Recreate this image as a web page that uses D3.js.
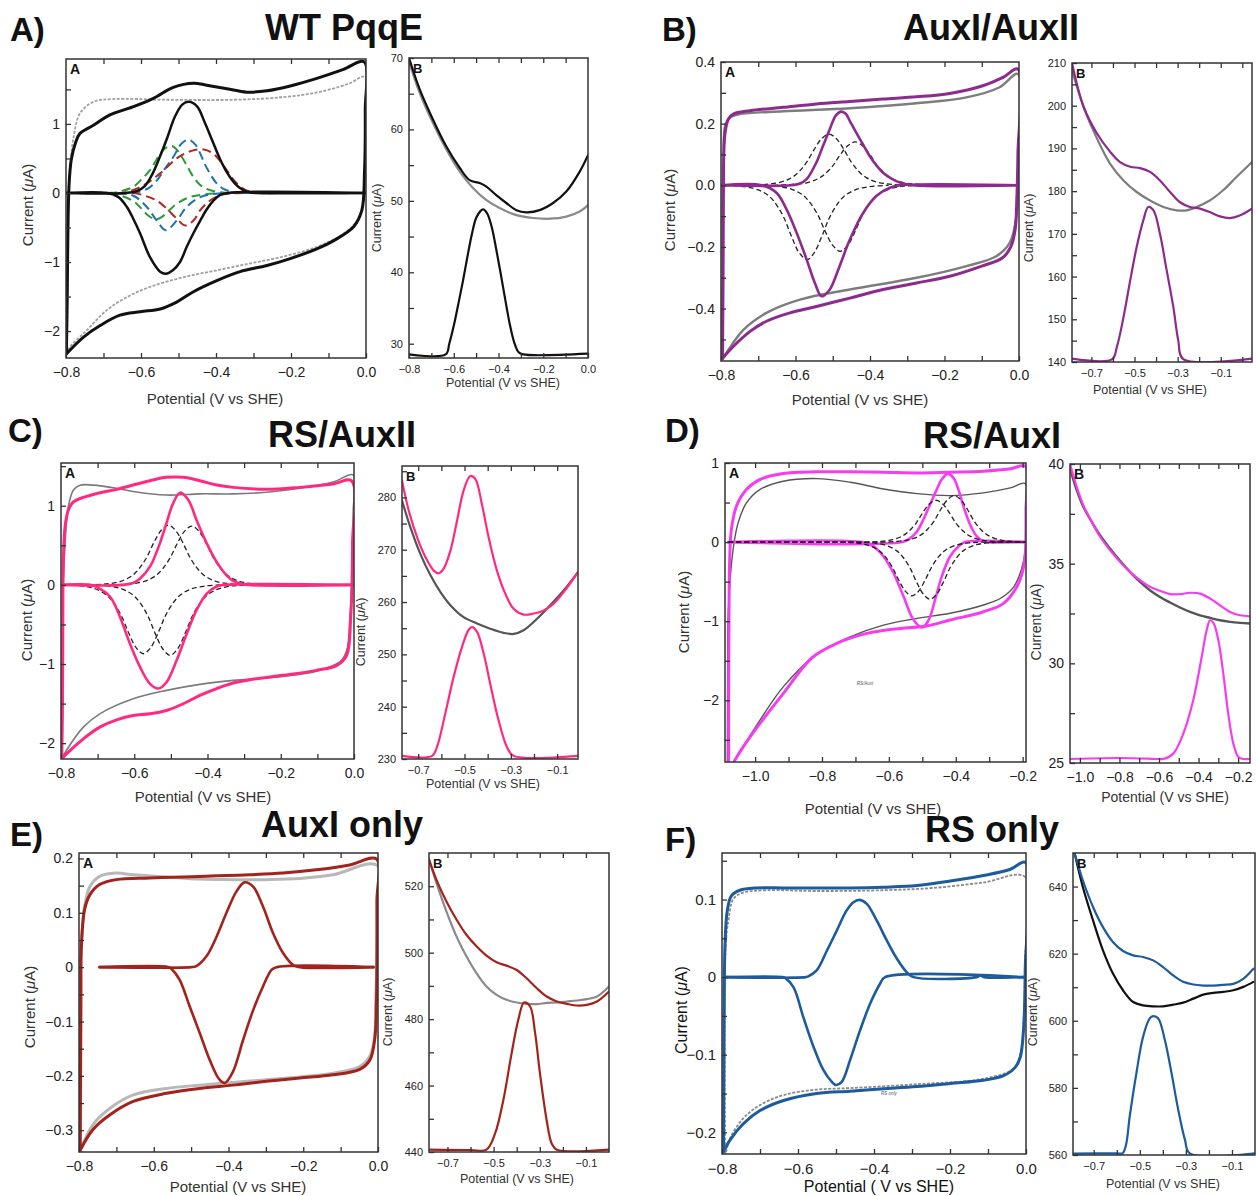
<!DOCTYPE html>
<html>
<head>
<meta charset="utf-8">
<script src="https://cdn.jsdelivr.net/npm/d3@7"></script>
<style>
body { margin: 0; background: #fff; }
</style>
</head>
<body>
<script>
var W = 1256, H = 1196;
var FONT = '"Liberation Sans", Arial, Helvetica, sans-serif';

// ---------- tick labels ----------
var cvXTicks = [-0.8, -0.6, -0.4, -0.2, 0];
var cvXLabels = ["\u22120.8", "\u22120.6", "\u22120.4", "\u22120.2", "0.0"];
var cvXMinor = [-0.7, -0.5, -0.3, -0.1];
var swvXTicks = [-0.7, -0.5, -0.3, -0.1];
var swvXLabels = ["\u22120.7", "\u22120.5", "\u22120.3", "\u22120.1"];
var swvXMinor = [-0.8, -0.6, -0.4, -0.2, 0];
var dXTicks = [-1.0, -0.8, -0.6, -0.4, -0.2];
var dXLabels = ["\u22121.0", "\u22120.8", "\u22120.6", "\u22120.4", "\u22120.2"];
var dXMinor = [-0.9, -0.7, -0.5, -0.3];

var intYTicks = [-2, -1, 0, 1];
var intYLabels = ["\u22122", "\u22121", "0", "1"];
var intYMinor = [-2.5, -1.5, -0.5, 0.5, 1.5];
var wtSwvYTicks = [30, 40, 50, 60, 70];
var wtSwvYMinor = [35, 45, 55, 65];
var auxYTicks = [-0.4, -0.2, 0, 0.2, 0.4];
var auxYLabels = ["\u22120.4", "\u22120.2", "0.0", "0.2", "0.4"];
var auxYMinor = [-0.5, -0.3, -0.1, 0.1, 0.3];
var auxSwvYTicks = [140, 150, 160, 170, 180, 190, 200, 210];
var auxSwvYMinor = [145, 155, 165, 175, 185, 195, 205];
var rs2SwvYTicks = [230, 240, 250, 260, 270, 280];
var rs2SwvYMinor = [235, 245, 255, 265, 275, 285];
var rs1SwvYTicks = [25, 30, 35, 40];
var rs1SwvYMinor = [27.5, 32.5, 37.5];
var aux1YTicks = [-0.3, -0.2, -0.1, 0, 0.1, 0.2];
var aux1YLabels = ["\u22120.3", "\u22120.2", "\u22120.1", "0", "0.1", "0.2"];
var aux1YMinor = [-0.25, -0.15, -0.05, 0.05, 0.15];
var aux1SwvYTicks = [440, 460, 480, 500, 520];
var aux1SwvYMinor = [450, 470, 490, 510];
var rsYTicks = [-0.2, -0.1, 0, 0.1];
var rsYLabels = ["\u22120.2", "\u22120.1", "0", "0.1"];
var rsYMinor = [-0.15, -0.05, 0.05, 0.15];
var rsSwvYTicks = [560, 580, 600, 620, 640];
var rsSwvYMinor = [570, 590, 610, 630];

// ---------- A) WT PqqE ----------
var wtCv = [[-0.799,-2.33],[-0.797,-1.6],[-0.795,-0.6],[-0.792,0.1],[-0.786,0.48],[-0.775,0.72],[-0.763,0.86],[-0.727,0.98],[-0.683,1.13],[-0.62,1.25],[-0.567,1.37],[-0.514,1.53],[-0.46,1.59],[-0.425,1.56],[-0.371,1.51],[-0.318,1.46],[-0.264,1.48],[-0.202,1.55],[-0.131,1.66],[-0.06,1.79],[-0.005,1.9],[-0.002,1.2],[-0.004,0.3],[-0.011,-0.25],[-0.033,-0.49],[-0.086,-0.69],[-0.131,-0.81],[-0.202,-0.95],[-0.264,-1.05],[-0.336,-1.14],[-0.398,-1.27],[-0.46,-1.43],[-0.505,-1.58],[-0.549,-1.68],[-0.602,-1.72],[-0.656,-1.77],[-0.709,-1.92],[-0.754,-2.09],[-0.799,-2.33]];
var wtCvCtrl = [[-0.797,-2.2],[-0.795,-1.0],[-0.793,0.0],[-0.787,0.5],[-0.78,0.8],[-0.763,1.15],[-0.727,1.32],[-0.674,1.36],[-0.53,1.35],[-0.35,1.35],[-0.216,1.39],[-0.127,1.46],[-0.047,1.58],[-0.002,1.68],[-0.002,0.8],[-0.006,-0.1],[-0.024,-0.4],[-0.06,-0.59],[-0.131,-0.78],[-0.22,-0.92],[-0.309,-1.02],[-0.398,-1.12],[-0.487,-1.22],[-0.576,-1.36],[-0.638,-1.51],[-0.692,-1.7],[-0.745,-1.99],[-0.79,-2.23],[-0.797,-2.3]];
var wtOx = [[-0.8,0],[-0.64,0],[-0.61,0.03],[-0.59,0.1],[-0.57,0.27],[-0.55,0.52],[-0.53,0.8],[-0.51,1.1],[-0.49,1.28],[-0.472,1.32],[-0.45,1.25],[-0.43,1.02],[-0.41,0.76],[-0.39,0.5],[-0.37,0.29],[-0.35,0.14],[-0.33,0.05],[-0.31,0.01],[-0.29,0],[0,0]];
var wtRed = [[-0.8,0],[-0.69,0],[-0.66,-0.06],[-0.638,-0.2],[-0.62,-0.38],[-0.602,-0.59],[-0.576,-0.93],[-0.549,-1.14],[-0.534,-1.17],[-0.515,-1.12],[-0.496,-1.0],[-0.478,-0.78],[-0.46,-0.58],[-0.442,-0.4],[-0.425,-0.24],[-0.407,-0.11],[-0.39,-0.03],[-0.37,0],[0,0]];
var wtGreenOx = [[-0.8,0],[-0.68,0],[-0.65,0.03],[-0.62,0.09],[-0.598,0.2],[-0.576,0.33],[-0.56,0.47],[-0.549,0.57],[-0.535,0.65],[-0.518,0.68],[-0.505,0.63],[-0.491,0.52],[-0.475,0.37],[-0.46,0.23],[-0.443,0.12],[-0.425,0.06],[-0.4,0.02],[-0.37,0],[-0.3,0]];
var wtBlueOx = [[-0.7,0],[-0.62,0],[-0.58,0.07],[-0.558,0.18],[-0.535,0.36],[-0.514,0.52],[-0.491,0.72],[-0.472,0.77],[-0.455,0.7],[-0.442,0.57],[-0.43,0.42],[-0.416,0.28],[-0.4,0.15],[-0.38,0.06],[-0.35,0.01],[-0.32,0],[-0.28,0]];
var wtRedOx = [[-0.7,0],[-0.65,0],[-0.6,0.09],[-0.55,0.28],[-0.5,0.52],[-0.465,0.61],[-0.433,0.63],[-0.41,0.58],[-0.39,0.47],[-0.37,0.32],[-0.35,0.17],[-0.33,0.07],[-0.31,0.02],[-0.28,0],[-0.22,0]];
var wtGreenRed = [[-0.76,0],[-0.7,0],[-0.66,-0.03],[-0.62,-0.12],[-0.6,-0.22],[-0.58,-0.33],[-0.562,-0.38],[-0.545,-0.35],[-0.525,-0.25],[-0.5,-0.14],[-0.47,-0.06],[-0.43,-0.02],[-0.35,0],[-0.28,0]];
var wtBlueRed = [[-0.7,0],[-0.66,0],[-0.62,-0.04],[-0.585,-0.2],[-0.558,-0.4],[-0.534,-0.54],[-0.505,-0.4],[-0.478,-0.2],[-0.442,-0.06],[-0.4,-0.01],[-0.36,0],[-0.3,0]];
var wtRedRed = [[-0.66,0],[-0.62,0],[-0.59,-0.04],[-0.558,-0.11],[-0.531,-0.23],[-0.505,-0.37],[-0.482,-0.47],[-0.46,-0.4],[-0.442,-0.25],[-0.425,-0.15],[-0.407,-0.08],[-0.38,-0.02],[-0.34,0],[-0.28,0]];
var wtSwv = [[-0.8,70],[-0.752,65.6],[-0.693,61.4],[-0.633,57.6],[-0.573,54.6],[-0.529,52.9],[-0.484,52.5],[-0.454,52.0],[-0.41,50.8],[-0.365,49.7],[-0.32,48.7],[-0.275,48.4],[-0.216,48.7],[-0.156,49.7],[-0.097,51.3],[-0.037,54.1],[0,56.4]];
var wtSwvCtrl = [[-0.8,69.5],[-0.752,65.1],[-0.693,60.9],[-0.633,57.2],[-0.573,54.1],[-0.514,51.8],[-0.454,50.1],[-0.395,49.0],[-0.32,48.0],[-0.246,47.6],[-0.171,47.5],[-0.097,47.8],[-0.037,48.5],[0,49.4]];
var wtSwvPeak = [[-0.8,28.5],[-0.636,28.5],[-0.62,30],[-0.6,32.5],[-0.58,35.5],[-0.56,38.6],[-0.54,42],[-0.52,45.2],[-0.5,47.6],[-0.48,48.6],[-0.468,48.8],[-0.45,48.2],[-0.43,46.3],[-0.41,43.2],[-0.39,39.8],[-0.37,36.2],[-0.35,32.8],[-0.33,30.2],[-0.31,28.8],[-0.29,28.5],[0,28.6]];

// ---------- B) AuxI/AuxII ----------
var auxCv = [[-0.796,-0.56],[-0.795,-0.3],[-0.794,0.0],[-0.789,0.171],[-0.78,0.215],[-0.767,0.231],[-0.722,0.242],[-0.633,0.253],[-0.544,0.264],[-0.454,0.272],[-0.365,0.28],[-0.275,0.287],[-0.186,0.298],[-0.097,0.323],[-0.043,0.35],[-0.003,0.377],[-0.003,0.1],[-0.006,-0.05],[-0.01,-0.14],[-0.022,-0.2],[-0.045,-0.236],[-0.1,-0.262],[-0.186,-0.295],[-0.275,-0.317],[-0.365,-0.338],[-0.454,-0.366],[-0.544,-0.393],[-0.615,-0.414],[-0.678,-0.441],[-0.722,-0.474],[-0.767,-0.523],[-0.796,-0.561]];
var auxCvCtrl = [[-0.795,-0.565],[-0.794,-0.3],[-0.792,0.0],[-0.789,0.193],[-0.776,0.22],[-0.75,0.231],[-0.633,0.24],[-0.454,0.25],[-0.275,0.266],[-0.141,0.285],[-0.052,0.318],[-0.003,0.361],[-0.002,0.1],[-0.007,-0.1],[-0.025,-0.187],[-0.061,-0.23],[-0.141,-0.262],[-0.275,-0.3],[-0.454,-0.338],[-0.588,-0.371],[-0.678,-0.414],[-0.74,-0.469],[-0.794,-0.561]];
var auxOx = [[-0.8,0],[-0.61,0],[-0.59,0.005],[-0.57,0.02],[-0.544,0.074],[-0.526,0.128],[-0.508,0.182],[-0.492,0.226],[-0.478,0.239],[-0.465,0.232],[-0.454,0.208],[-0.427,0.15],[-0.401,0.095],[-0.383,0.065],[-0.365,0.041],[-0.34,0.02],[-0.32,0.009],[-0.284,0],[0,0]];
var auxRed = [[-0.8,0],[-0.69,0],[-0.651,-0.024],[-0.624,-0.078],[-0.597,-0.154],[-0.57,-0.241],[-0.548,-0.317],[-0.53,-0.36],[-0.508,-0.338],[-0.485,-0.273],[-0.454,-0.176],[-0.418,-0.089],[-0.383,-0.035],[-0.347,-0.008],[-0.32,0],[0,0]];
var auxD1Ox = [[-0.73,0],[-0.68,0.003],[-0.64,0.01],[-0.61,0.025],[-0.59,0.045],[-0.57,0.075],[-0.55,0.116],[-0.53,0.151],[-0.51,0.166],[-0.49,0.151],[-0.47,0.116],[-0.45,0.075],[-0.43,0.045],[-0.41,0.025],[-0.38,0.01],[-0.34,0.003],[-0.29,0]];
var auxD2Ox = [[-0.66,0],[-0.61,0.003],[-0.57,0.008],[-0.54,0.021],[-0.52,0.038],[-0.5,0.063],[-0.48,0.099],[-0.46,0.128],[-0.44,0.141],[-0.42,0.128],[-0.4,0.099],[-0.38,0.063],[-0.36,0.038],[-0.34,0.021],[-0.31,0.008],[-0.27,0.003],[-0.22,0]];
var auxD1Red = [[-0.79,0],[-0.74,-0.004],[-0.7,-0.015],[-0.67,-0.036],[-0.65,-0.065],[-0.63,-0.108],[-0.61,-0.168],[-0.59,-0.219],[-0.568,-0.241],[-0.55,-0.219],[-0.53,-0.168],[-0.51,-0.108],[-0.49,-0.065],[-0.47,-0.036],[-0.44,-0.015],[-0.4,-0.004],[-0.35,0]];
var auxD2Red = [[-0.7,0],[-0.65,-0.003],[-0.61,-0.013],[-0.58,-0.032],[-0.56,-0.058],[-0.54,-0.096],[-0.52,-0.15],[-0.5,-0.195],[-0.48,-0.214],[-0.46,-0.195],[-0.44,-0.15],[-0.42,-0.096],[-0.4,-0.058],[-0.38,-0.032],[-0.35,-0.013],[-0.31,-0.003],[-0.26,0]];
var auxSwv = [[-0.79,210],[-0.736,199.7],[-0.674,193.5],[-0.613,189.2],[-0.567,186.8],[-0.52,185.7],[-0.474,185.4],[-0.428,184.5],[-0.382,182.5],[-0.335,179.8],[-0.289,177.4],[-0.243,176.3],[-0.197,175.9],[-0.151,175.1],[-0.104,174.1],[-0.058,173.7],[-0.012,174.3],[0.045,175.9]];
var auxSwvCtrl = [[-0.79,208.3],[-0.736,199.7],[-0.674,192.3],[-0.613,186.4],[-0.551,182.5],[-0.49,179.8],[-0.428,177.8],[-0.366,176.3],[-0.305,175.5],[-0.259,175.5],[-0.212,176.3],[-0.151,177.8],[-0.089,180.2],[-0.027,183.3],[0.045,186.8]];
var auxSwvPeak = [[-0.79,140.8],[-0.605,140.6],[-0.582,143.5],[-0.551,150.5],[-0.52,159.1],[-0.49,166.9],[-0.459,173.2],[-0.436,176.3],[-0.412,175.5],[-0.382,170],[-0.351,161.5],[-0.32,152.9],[-0.297,145],[-0.274,140.7],[0.045,140.8]];

// ---------- C) RS/AuxII ----------
var rs2Cv = [[-0.798,-2.2],[-0.796,-1.5],[-0.795,-0.5],[-0.794,0.2],[-0.789,0.73],[-0.78,0.945],[-0.766,1.05],[-0.739,1.105],[-0.694,1.165],[-0.648,1.207],[-0.603,1.262],[-0.557,1.316],[-0.512,1.359],[-0.466,1.359],[-0.421,1.316],[-0.375,1.262],[-0.33,1.232],[-0.239,1.207],[-0.148,1.232],[-0.057,1.274],[-0.007,1.316],[-0.004,0.52],[-0.009,-0.405],[-0.02,-0.89],[-0.047,-1.017],[-0.102,-1.08],[-0.193,-1.143],[-0.284,-1.198],[-0.33,-1.24],[-0.375,-1.31],[-0.421,-1.397],[-0.466,-1.502],[-0.512,-1.587],[-0.557,-1.629],[-0.603,-1.65],[-0.648,-1.705],[-0.694,-1.797],[-0.739,-1.945],[-0.785,-2.135],[-0.798,-2.2]];
var rs2CvCtrl = [[-0.797,-2.2],[-0.795,-1.0],[-0.794,0.0],[-0.789,0.52],[-0.78,0.99],[-0.766,1.2],[-0.748,1.26],[-0.712,1.26],[-0.648,1.22],[-0.603,1.18],[-0.512,1.135],[-0.421,1.15],[-0.33,1.15],[-0.239,1.17],[-0.148,1.22],[-0.057,1.3],[-0.002,1.39],[-0.002,0.945],[-0.004,0.3],[-0.011,-0.41],[-0.02,-0.83],[-0.038,-0.97],[-0.102,-1.09],[-0.193,-1.156],[-0.33,-1.207],[-0.421,-1.257],[-0.512,-1.333],[-0.603,-1.439],[-0.694,-1.629],[-0.739,-1.797],[-0.785,-2.09],[-0.798,-2.2]];
var rs2Ox = [[-0.8,0],[-0.63,0],[-0.6,0.03],[-0.584,0.08],[-0.557,0.23],[-0.53,0.525],[-0.512,0.78],[-0.494,1.03],[-0.475,1.165],[-0.452,1.07],[-0.43,0.82],[-0.402,0.525],[-0.375,0.29],[-0.348,0.12],[-0.33,0.05],[-0.311,0.02],[-0.29,0],[0,0]];
var rs2Red = [[-0.8,0],[-0.72,0],[-0.703,-0.025],[-0.666,-0.15],[-0.639,-0.405],[-0.612,-0.74],[-0.584,-1.04],[-0.557,-1.25],[-0.534,-1.31],[-0.512,-1.23],[-0.484,-0.95],[-0.457,-0.62],[-0.43,-0.32],[-0.402,-0.11],[-0.375,-0.02],[-0.35,0],[0,0]];
var rs2D1Ox = [[-0.727,0],[-0.677,0.011],[-0.637,0.045],[-0.607,0.113],[-0.587,0.204],[-0.567,0.34],[-0.547,0.529],[-0.527,0.687],[-0.507,0.755],[-0.487,0.687],[-0.467,0.529],[-0.447,0.34],[-0.427,0.204],[-0.407,0.113],[-0.377,0.045],[-0.337,0.011],[-0.287,0]];
var rs2D2Ox = [[-0.663,0],[-0.613,0.011],[-0.573,0.045],[-0.543,0.111],[-0.523,0.2],[-0.503,0.334],[-0.483,0.52],[-0.463,0.676],[-0.443,0.743],[-0.423,0.676],[-0.403,0.52],[-0.383,0.334],[-0.363,0.2],[-0.343,0.111],[-0.313,0.045],[-0.273,0.011],[-0.223,0]];
var rs2D1Red = [[-0.795,0],[-0.745,-0.013],[-0.705,-0.052],[-0.675,-0.131],[-0.655,-0.235],[-0.635,-0.392],[-0.615,-0.609],[-0.595,-0.792],[-0.575,-0.87],[-0.555,-0.792],[-0.535,-0.609],[-0.515,-0.392],[-0.495,-0.235],[-0.475,-0.131],[-0.445,-0.052],[-0.405,-0.013],[-0.355,0]];
var rs2D2Red = [[-0.722,0],[-0.672,-0.013],[-0.632,-0.053],[-0.602,-0.134],[-0.582,-0.24],[-0.562,-0.4],[-0.542,-0.623],[-0.522,-0.81],[-0.502,-0.89],[-0.482,-0.81],[-0.462,-0.623],[-0.442,-0.4],[-0.422,-0.24],[-0.402,-0.134],[-0.372,-0.053],[-0.332,-0.013],[-0.282,0]];
var rs2Swv = [[-0.77,283.2],[-0.741,277.5],[-0.705,272.4],[-0.669,268.6],[-0.633,266.0],[-0.612,265.5],[-0.59,266.4],[-0.561,269.8],[-0.532,275.6],[-0.504,281.3],[-0.475,284.1],[-0.453,283.5],[-0.425,278.7],[-0.396,272.4],[-0.36,266.0],[-0.324,261.6],[-0.288,258.7],[-0.245,257.6],[-0.201,257.8],[-0.158,258.4],[-0.115,259.7],[-0.072,261.9],[-0.01,265.7]];
var rs2SwvCtrl = [[-0.77,279.4],[-0.734,274.3],[-0.691,269.2],[-0.647,265.1],[-0.604,261.9],[-0.561,259.4],[-0.504,257.1],[-0.446,255.9],[-0.389,254.9],[-0.331,254.1],[-0.288,253.9],[-0.245,254.6],[-0.187,256.8],[-0.13,259.4],[-0.072,262.2],[-0.01,265.7]];
var rs2SwvPeak = [[-0.77,230.6],[-0.64,230.6],[-0.619,232.3],[-0.583,238.7],[-0.547,245.7],[-0.511,251.4],[-0.482,254.7],[-0.468,255.2],[-0.446,254.3],[-0.417,250.1],[-0.389,244.4],[-0.353,237.4],[-0.317,232.3],[-0.288,230.6],[-0.01,230.6]];

// ---------- D) RS/AuxI ----------
var rs1Cv = [[-1.079,-2.79],[-1.079,-1.7],[-1.078,-0.86],[-1.076,-0.22],[-1.071,0.156],[-1.056,0.452],[-1.026,0.664],[-0.986,0.791],[-0.916,0.867],[-0.816,0.888],[-0.716,0.888],[-0.616,0.884],[-0.516,0.875],[-0.417,0.884],[-0.317,0.896],[-0.237,0.926],[-0.192,0.96],[-0.19,0.41],[-0.192,-0.14],[-0.199,-0.351],[-0.217,-0.562],[-0.257,-0.774],[-0.317,-0.88],[-0.417,-0.985],[-0.487,-1.061],[-0.566,-1.091],[-0.666,-1.154],[-0.756,-1.281],[-0.829,-1.459],[-0.916,-1.915],[-0.986,-2.296],[-1.036,-2.592],[-1.061,-2.761]];
var rs1CvCtrl = [[-1.083,-2.79],[-1.082,-1.7],[-1.08,-0.86],[-1.066,-0.1],[-1.051,0.24],[-1.026,0.495],[-0.986,0.664],[-0.916,0.77],[-0.816,0.803],[-0.716,0.757],[-0.616,0.672],[-0.516,0.613],[-0.417,0.588],[-0.317,0.622],[-0.237,0.685],[-0.192,0.74],[-0.19,0.3],[-0.192,-0.1],[-0.204,-0.35],[-0.226,-0.562],[-0.266,-0.71],[-0.317,-0.795],[-0.417,-0.9],[-0.516,-0.964],[-0.616,-1.049],[-0.716,-1.197],[-0.816,-1.42],[-0.916,-1.83],[-0.986,-2.254],[-1.036,-2.59],[-1.066,-2.79]];
var rs1Ox = [[-1.08,0],[-0.56,0],[-0.536,0.05],[-0.516,0.135],[-0.497,0.283],[-0.477,0.474],[-0.457,0.664],[-0.442,0.791],[-0.424,0.862],[-0.407,0.812],[-0.392,0.664],[-0.377,0.452],[-0.357,0.22],[-0.337,0.072],[-0.317,0.008],[-0.305,0],[-0.19,0]];
var rs1Red = [[-1.08,0],[-0.68,0],[-0.646,-0.055],[-0.616,-0.182],[-0.586,-0.393],[-0.556,-0.689],[-0.526,-0.985],[-0.501,-1.078],[-0.481,-0.985],[-0.462,-0.731],[-0.442,-0.436],[-0.417,-0.182],[-0.392,-0.055],[-0.372,0],[-0.19,0]];
var rs1D1Ox = [[-1.08,0],[-0.679,0],[-0.629,0.008],[-0.589,0.032],[-0.559,0.079],[-0.539,0.143],[-0.519,0.238],[-0.499,0.37],[-0.479,0.481],[-0.459,0.529],[-0.439,0.481],[-0.419,0.37],[-0.399,0.238],[-0.379,0.143],[-0.359,0.079],[-0.329,0.032],[-0.289,0.008],[-0.239,0],[-0.19,0]];
var rs1D2Ox = [[-1.08,0],[-0.625,0],[-0.575,0.009],[-0.535,0.035],[-0.505,0.088],[-0.485,0.159],[-0.465,0.265],[-0.445,0.412],[-0.425,0.535],[-0.405,0.588],[-0.385,0.535],[-0.365,0.412],[-0.345,0.265],[-0.325,0.159],[-0.305,0.088],[-0.275,0.035],[-0.235,0.009],[-0.19,0]];
var rs1D1Red = [[-1.08,0],[-0.751,0],[-0.701,-0.01],[-0.661,-0.041],[-0.631,-0.102],[-0.611,-0.184],[-0.591,-0.306],[-0.571,-0.476],[-0.551,-0.619],[-0.531,-0.68],[-0.511,-0.619],[-0.491,-0.476],[-0.471,-0.306],[-0.451,-0.184],[-0.431,-0.102],[-0.401,-0.041],[-0.361,-0.01],[-0.311,0],[-0.19,0]];
var rs1D2Red = [[-1.08,0],[-0.697,0],[-0.647,-0.011],[-0.607,-0.043],[-0.577,-0.108],[-0.557,-0.195],[-0.537,-0.325],[-0.517,-0.506],[-0.497,-0.658],[-0.477,-0.723],[-0.457,-0.658],[-0.437,-0.506],[-0.417,-0.325],[-0.397,-0.195],[-0.377,-0.108],[-0.347,-0.043],[-0.307,-0.011],[-0.257,0],[-0.19,0]];
var rs1Swv = [[-1.05,40],[-1.016,38.86],[-0.983,37.94],[-0.94,37.1],[-0.898,36.35],[-0.848,35.68],[-0.797,35.09],[-0.747,34.59],[-0.696,34.17],[-0.646,33.84],[-0.595,33.64],[-0.544,33.47],[-0.494,33.47],[-0.443,33.54],[-0.393,33.5],[-0.342,33.25],[-0.292,32.91],[-0.241,32.58],[-0.191,32.41],[-0.14,32.36]];
var rs1SwvCtrl = [[-1.05,39.78],[-1.016,38.69],[-0.983,37.86],[-0.94,37.1],[-0.898,36.43],[-0.848,35.76],[-0.797,35.14],[-0.747,34.59],[-0.696,34.09],[-0.646,33.67],[-0.595,33.33],[-0.544,33.05],[-0.494,32.8],[-0.443,32.58],[-0.393,32.41],[-0.342,32.28],[-0.292,32.16],[-0.241,32.08],[-0.191,32.03],[-0.14,32.0]];
var rs1SwvPeak = [[-1.05,25.2],[-0.8,25.25],[-0.6,25.2],[-0.578,25.2],[-0.528,25.47],[-0.477,26.48],[-0.427,28.15],[-0.384,30.33],[-0.359,31.67],[-0.342,32.16],[-0.325,32.03],[-0.3,31.16],[-0.275,29.49],[-0.25,27.48],[-0.224,25.97],[-0.199,25.3],[-0.174,25.2],[-0.14,25.2]];

// ---------- E) AuxI only ----------
var aux1Cv = [[-0.797,-0.34],[-0.796,-0.2],[-0.795,-0.05],[-0.794,0.032],[-0.785,0.106],[-0.771,0.133],[-0.745,0.152],[-0.7,0.161],[-0.611,0.164],[-0.522,0.166],[-0.432,0.168],[-0.343,0.17],[-0.254,0.173],[-0.165,0.179],[-0.076,0.188],[-0.004,0.199],[-0.003,0.12],[-0.004,-0.06],[-0.009,-0.134],[-0.022,-0.171],[-0.049,-0.188],[-0.12,-0.198],[-0.209,-0.204],[-0.299,-0.21],[-0.388,-0.217],[-0.477,-0.223],[-0.566,-0.232],[-0.655,-0.247],[-0.718,-0.272],[-0.763,-0.299],[-0.794,-0.333]];
var aux1CvCtrl = [[-0.796,-0.34],[-0.795,-0.1],[-0.794,0.032],[-0.785,0.112],[-0.771,0.148],[-0.745,0.167],[-0.7,0.173],[-0.655,0.17],[-0.566,0.166],[-0.477,0.162],[-0.388,0.161],[-0.299,0.161],[-0.209,0.163],[-0.12,0.17],[-0.001,0.187],[-0.002,0.05],[-0.006,-0.06],[-0.009,-0.128],[-0.022,-0.164],[-0.049,-0.183],[-0.12,-0.195],[-0.209,-0.202],[-0.299,-0.207],[-0.388,-0.212],[-0.477,-0.217],[-0.566,-0.223],[-0.655,-0.235],[-0.718,-0.26],[-0.763,-0.29],[-0.794,-0.333]];
var aux1Ox = [[-0.745,0],[-0.5,0],[-0.486,0.002],[-0.459,0.02],[-0.432,0.056],[-0.406,0.099],[-0.379,0.139],[-0.357,0.156],[-0.334,0.148],[-0.308,0.112],[-0.281,0.063],[-0.254,0.026],[-0.227,0.004],[-0.209,0],[-0.012,0]];
var aux1Red = [[-0.745,0],[-0.56,0],[-0.553,-0.003],[-0.531,-0.023],[-0.504,-0.072],[-0.477,-0.121],[-0.45,-0.171],[-0.424,-0.207],[-0.41,-0.213],[-0.388,-0.192],[-0.361,-0.134],[-0.334,-0.079],[-0.308,-0.036],[-0.285,-0.005],[-0.272,0],[-0.012,0]];
var aux1Swv = [[-0.78,528],[-0.748,522],[-0.705,515.5],[-0.661,510],[-0.618,505.4],[-0.574,501.9],[-0.531,499.1],[-0.487,497.1],[-0.444,496.1],[-0.4,494.8],[-0.357,492.3],[-0.313,489.3],[-0.27,486.8],[-0.226,485.3],[-0.183,484.6],[-0.139,484.1],[-0.096,484.3],[-0.052,485.3],[0,488.3]];
var aux1SwvCtrl = [[-0.78,528],[-0.748,521],[-0.705,512.5],[-0.661,504.9],[-0.618,498.9],[-0.574,493.8],[-0.531,489.8],[-0.487,487.3],[-0.444,485.8],[-0.4,485.0],[-0.357,484.6],[-0.313,484.5],[-0.27,484.9],[-0.226,485.0],[-0.183,485.3],[-0.139,485.6],[-0.096,486.0],[-0.052,486.8],[0,489.8]];
var aux1SwvPeak = [[-0.78,440.7],[-0.6,440.6],[-0.531,440.7],[-0.494,445.5],[-0.458,455.6],[-0.422,469.7],[-0.393,479.8],[-0.368,485],[-0.342,483.8],[-0.32,475.7],[-0.299,463.6],[-0.27,449.5],[-0.248,442.5],[-0.226,440.7],[0,440.7]];

// ---------- F) RS only ----------
var rsCv = [[-0.796,-0.225],[-0.795,-0.12],[-0.794,-0.02],[-0.792,0.043],[-0.786,0.086],[-0.775,0.105],[-0.753,0.112],[-0.709,0.115],[-0.638,0.115],[-0.551,0.115],[-0.463,0.115],[-0.375,0.116],[-0.287,0.118],[-0.199,0.124],[-0.112,0.131],[-0.041,0.139],[-0.002,0.148],[-0.002,0.01],[-0.006,-0.064],[-0.015,-0.103],[-0.028,-0.116],[-0.059,-0.127],[-0.112,-0.133],[-0.199,-0.137],[-0.287,-0.141],[-0.375,-0.144],[-0.463,-0.147],[-0.551,-0.15],[-0.638,-0.159],[-0.7,-0.172],[-0.744,-0.189],[-0.779,-0.21],[-0.796,-0.225]];
var rsCvCtrl = [[-0.792,-0.228],[-0.793,-0.1],[-0.792,0.02],[-0.787,0.06],[-0.783,0.073],[-0.77,0.101],[-0.744,0.109],[-0.682,0.112],[-0.551,0.111],[-0.375,0.112],[-0.243,0.115],[-0.112,0.122],[-0.002,0.129],[-0.003,0.02],[-0.005,-0.043],[-0.015,-0.099],[-0.033,-0.118],[-0.112,-0.131],[-0.287,-0.138],[-0.463,-0.143],[-0.551,-0.145],[-0.638,-0.152],[-0.7,-0.165],[-0.744,-0.182],[-0.779,-0.208],[-0.79,-0.228]];
var rsOx = [[-0.795,0],[-0.58,0],[-0.573,0.001],[-0.551,0.0086],[-0.524,0.034],[-0.498,0.06],[-0.472,0.086],[-0.454,0.0966],[-0.438,0.0996],[-0.419,0.0944],[-0.393,0.073],[-0.366,0.047],[-0.34,0.024],[-0.314,0.0064],[-0.296,0],[-0.13,0],[-0.12,0.002],[-0.11,0],[-0.006,0]];
var rsRed = [[-0.795,0],[-0.64,0],[-0.634,-0.001],[-0.612,-0.013],[-0.586,-0.0515],[-0.559,-0.09],[-0.533,-0.12],[-0.511,-0.135],[-0.5,-0.139],[-0.485,-0.135],[-0.463,-0.107],[-0.437,-0.069],[-0.41,-0.034],[-0.384,-0.0086],[-0.371,0],[-0.006,0]];
var rsSwv = [[-0.783,649.9],[-0.747,641.8],[-0.703,633.9],[-0.66,627.9],[-0.616,623.4],[-0.573,620.8],[-0.529,619.5],[-0.486,619.0],[-0.442,618.0],[-0.399,616.0],[-0.355,613.5],[-0.312,611.6],[-0.268,610.8],[-0.225,610.5],[-0.181,610.5],[-0.138,610.7],[-0.094,611.0],[-0.051,612.5],[-0.007,615.5]];
var rsSwvCtrl = [[-0.783,649.9],[-0.747,639.8],[-0.703,629.9],[-0.66,621.0],[-0.616,614.0],[-0.573,609.1],[-0.529,605.6],[-0.486,604.6],[-0.442,604.3],[-0.399,604.3],[-0.355,604.8],[-0.312,605.4],[-0.268,606.6],[-0.225,607.8],[-0.181,608.3],[-0.138,608.6],[-0.094,609.1],[-0.051,610.1],[-0.007,611.6]];
var rsSwvPeak = [[-0.79,560.4],[-0.6,560.5],[-0.575,560.5],[-0.56,563],[-0.544,571.4],[-0.515,584.3],[-0.486,595.2],[-0.457,600.7],[-0.442,601.4],[-0.42,600.7],[-0.391,594.2],[-0.362,584.3],[-0.333,573.4],[-0.304,564.5],[-0.283,560.5],[0,560.5]];

// ---------- layout ----------
var svg = d3.select("body").append("svg")
    .attr("width", W).attr("height", H)
    .style("font-family", FONT);

var plots = [
  {id: "wtCv", box: [66, 59, 366, 358], xd: [-0.8, 0], yd: [-2.39, 1.94], tag: "A", fs: 14, tfs: 15,
   xt: cvXTicks, xl: cvXLabels, xm: cvXMinor, yt: intYTicks, yl: intYLabels, ym: intYMinor,
   xTitle: [215, 404], yTitle: [28, 205],
   series: [
     {d: wtCvCtrl, c: "#a0a0a0", w: 1.8, dash: "3,1.5"},
     {d: wtCv, c: "#111", w: 3},
     {d: wtGreenOx, c: "#2e9a36", w: 2, dash: "9,5"},
     {d: wtBlueOx, c: "#1f6fb4", w: 2, dash: "9,5"},
     {d: wtRedOx, c: "#b3261e", w: 2, dash: "9,5"},
     {d: wtGreenRed, c: "#2e9a36", w: 2, dash: "9,5"},
     {d: wtBlueRed, c: "#1f6fb4", w: 2, dash: "9,5"},
     {d: wtRedRed, c: "#b3261e", w: 2, dash: "9,5"},
     {d: wtOx, c: "#111", w: 2.5},
     {d: wtRed, c: "#111", w: 2.5}]},
  {id: "wtSwv", box: [409, 58, 588, 358], xd: [-0.8, 0], yd: [28, 70], tag: "B", fs: 11, tfs: 12.5,
   xt: cvXTicks, xl: cvXLabels, xm: cvXMinor, yt: wtSwvYTicks, yl: wtSwvYTicks.map(String), ym: wtSwvYMinor,
   xTitle: [503, 387], yTitle: [377, 218],
   series: [
     {d: wtSwvCtrl, c: "#8a8a8a", w: 2.2},
     {d: wtSwv, c: "#111", w: 2.2},
     {d: wtSwvPeak, c: "#111", w: 2.2}]},
  {id: "auxCv", box: [721, 62, 1019, 361], xd: [-0.8, 0], yd: [-0.57, 0.40], tag: "A", fs: 14, tfs: 15,
   xt: cvXTicks, xl: cvXLabels, xm: cvXMinor, yt: auxYTicks, yl: auxYLabels, ym: auxYMinor,
   xTitle: [860, 405], yTitle: [670, 210],
   series: [
     {d: auxCvCtrl, c: "#7d7d7d", w: 2.4},
     {d: auxCv, c: "#8c2a8d", w: 3},
     {d: auxD1Ox, c: "#222", w: 1.3, dash: "5,3"},
     {d: auxD2Ox, c: "#222", w: 1.3, dash: "5,3"},
     {d: auxD1Red, c: "#222", w: 1.3, dash: "5,3"},
     {d: auxD2Red, c: "#222", w: 1.3, dash: "5,3"},
     {d: auxOx, c: "#8c2a8d", w: 2.6},
     {d: auxRed, c: "#8c2a8d", w: 2.6}]},
  {id: "auxSwv", box: [1072, 63, 1252, 362], xd: [-0.79, 0.045], yd: [140, 210], tag: "B", fs: 11, tfs: 12.5,
   xt: swvXTicks, xl: swvXLabels, xm: swvXMinor, yt: auxSwvYTicks, yl: auxSwvYTicks.map(String), ym: auxSwvYMinor,
   xTitle: [1150, 394], yTitle: [1029, 228],
   series: [
     {d: auxSwvCtrl, c: "#7d7d7d", w: 2.2},
     {d: auxSwv, c: "#8c2a8d", w: 2.2},
     {d: auxSwvPeak, c: "#8c2a8d", w: 2.2}]},
  {id: "rs2Cv", box: [61, 463, 354, 759], xd: [-0.8, 0], yd: [-2.2, 1.54], tag: "A", fs: 14, tfs: 15,
   xt: cvXTicks, xl: cvXLabels, xm: cvXMinor, yt: intYTicks, yl: intYLabels, ym: intYMinor,
   xTitle: [203, 802], yTitle: [27, 620],
   series: [
     {d: rs2CvCtrl, c: "#7a7a7a", w: 1.6},
     {d: rs2Cv, c: "#ff2a80", w: 3},
     {d: rs2D1Ox, c: "#222", w: 1.3, dash: "5,3"},
     {d: rs2D2Ox, c: "#222", w: 1.3, dash: "5,3"},
     {d: rs2D1Red, c: "#222", w: 1.3, dash: "5,3"},
     {d: rs2D2Red, c: "#222", w: 1.3, dash: "5,3"},
     {d: rs2Ox, c: "#ff2a80", w: 2.6},
     {d: rs2Red, c: "#ff2a80", w: 2.6}]},
  {id: "rs2Swv", box: [402, 466, 578, 759], xd: [-0.77, -0.01], yd: [230, 286], tag: "B", fs: 11, tfs: 12.5,
   xt: swvXTicks, xl: swvXLabels, xm: swvXMinor, yt: rs2SwvYTicks, yl: rs2SwvYTicks.map(String), ym: rs2SwvYMinor,
   xTitle: [483, 788], yTitle: [361, 632],
   series: [
     {d: rs2SwvCtrl, c: "#555", w: 2.2},
     {d: rs2Swv, c: "#ff2a80", w: 2.2},
     {d: rs2SwvPeak, c: "#ff2a80", w: 2.2}]},
  {id: "rs1Cv", box: [725, 463, 1026, 762], xd: [-1.09, -0.19], yd: [-2.78, 1.0], tag: "A", fs: 14, tfs: 15,
   xt: dXTicks, xl: dXLabels, xm: dXMinor, yt: intYTicks, yl: intYLabels, ym: intYMinor,
   xTitle: [873, 814], yTitle: [684, 612],
   series: [
     {d: rs1CvCtrl, c: "#555", w: 1.4},
     {d: rs1Cv, c: "#f53cf0", w: 3},
     {d: rs1Ox, c: "#f53cf0", w: 2.6},
     {d: rs1Red, c: "#f53cf0", w: 2.6},
     {d: rs1D1Ox, c: "#222", w: 1.3, dash: "5,3"},
     {d: rs1D2Ox, c: "#222", w: 1.3, dash: "5,3"},
     {d: rs1D1Red, c: "#222", w: 1.3, dash: "5,3"},
     {d: rs1D2Red, c: "#222", w: 1.3, dash: "5,3"}],
   note: {text: "RS/AuxI", x: 865, y: 685}},
  {id: "rs1Swv", box: [1070, 464, 1250, 763], xd: [-1.05, -0.14], yd: [25, 40], tag: "B", fs: 14, tfs: 14,
   xt: dXTicks, xl: dXLabels, xm: dXMinor, yt: rs1SwvYTicks, yl: rs1SwvYTicks.map(String), ym: rs1SwvYMinor,
   xTitle: [1165, 802], yTitle: [1036, 622],
   series: [
     {d: rs1SwvCtrl, c: "#555", w: 2.4},
     {d: rs1Swv, c: "#f53cf0", w: 2.2},
     {d: rs1SwvPeak, c: "#f53cf0", w: 2.2}]},
  {id: "aux1Cv", box: [79, 853, 378, 1152], xd: [-0.8, 0], yd: [-0.34, 0.21], tag: "A", fs: 14, tfs: 15,
   xt: cvXTicks, xl: cvXLabels, xm: cvXMinor, yt: aux1YTicks, yl: aux1YLabels, ym: aux1YMinor,
   xTitle: [238, 1192], yTitle: [30, 1007],
   series: [
     {d: aux1CvCtrl, c: "#b8b8b8", w: 3},
     {d: aux1Cv, c: "#a3231c", w: 3},
     {d: aux1Ox, c: "#a3231c", w: 2.6},
     {d: aux1Red, c: "#a3231c", w: 2.6}]},
  {id: "aux1Swv", box: [429, 853, 609, 1152], xd: [-0.78, 0], yd: [440, 530], tag: "B", fs: 11, tfs: 12.5,
   xt: swvXTicks, xl: swvXLabels, xm: swvXMinor, yt: aux1SwvYTicks, yl: aux1SwvYTicks.map(String), ym: aux1SwvYMinor,
   xTitle: [517, 1183], yTitle: [388, 1012],
   series: [
     {d: aux1SwvCtrl, c: "#8a8a8a", w: 2.2},
     {d: aux1Swv, c: "#a3231c", w: 2.2},
     {d: aux1SwvPeak, c: "#a3231c", w: 2.2}]},
  {id: "rsCv", box: [722, 853, 1026, 1154], xd: [-0.8, 0], yd: [-0.228, 0.16], tag: "", fs: 15, tfs: 16,
   xt: cvXTicks, xl: cvXLabels, xm: cvXMinor, yt: rsYTicks, yl: rsYLabels, ym: rsYMinor,
   xTitle: [879, 1192], yTitle: [681, 1010], xTitleText: "Potential ( V vs SHE)",
   series: [
     {d: rsCvCtrl, c: "#8a8a8a", w: 1.8, dash: "3,1.5"},
     {d: rsCv, c: "#1c5c9c", w: 3},
     {d: rsOx, c: "#1c5c9c", w: 2.6},
     {d: rsRed, c: "#1c5c9c", w: 2.6}],
   note: {text: "RS only", x: 889, y: 1095}},
  {id: "rsSwv", box: [1073, 853, 1255, 1155], xd: [-0.79, 0], yd: [560, 650], tag: "B", fs: 11, tfs: 12.5,
   xt: swvXTicks, xl: swvXLabels, xm: swvXMinor, yt: rsSwvYTicks, yl: rsSwvYTicks.map(String), ym: rsSwvYMinor,
   xTitle: [1163, 1188], yTitle: [1033, 1012],
   series: [
     {d: rsSwvCtrl, c: "#111", w: 2.2},
     {d: rsSwv, c: "#1c5c9c", w: 2.2},
     {d: rsSwvPeak, c: "#1c5c9c", w: 2.2}]}
];

var headings = [
  {letter: "A)", lx: 10, ly: 41, title: "WT PqqE", tx: 344, ty: 40},
  {letter: "B)", lx: 662, ly: 41, title: "AuxI/AuxII", tx: 991, ty: 40},
  {letter: "C)", lx: 8, ly: 442, title: "RS/AuxII", tx: 342, ty: 447},
  {letter: "D)", lx: 665, ly: 442, title: "RS/AuxI", tx: 992, ty: 448},
  {letter: "E)", lx: 10, ly: 846, title: "AuxI only", tx: 342, ty: 837},
  {letter: "F)", lx: 665, ly: 851, title: "RS only", tx: 992, ty: 842}
];

headings.forEach(function(h) {
  svg.append("text").attr("x", h.lx).attr("y", h.ly)
    .attr("font-size", 33).attr("font-weight", "bold").attr("fill", "#111").text(h.letter);
  svg.append("text").attr("x", h.tx).attr("y", h.ty).attr("text-anchor", "middle")
    .attr("font-size", 36).attr("font-weight", "bold").attr("fill", "#111").text(h.title);
});

function drawPlot(p) {
  var x0 = p.box[0], y0 = p.box[1], w = p.box[2] - x0, h = p.box[3] - y0;
  var g = svg.append("g").attr("transform", "translate(" + x0 + "," + y0 + ")");
  var x = d3.scaleLinear().domain(p.xd).range([0, w]);
  var y = d3.scaleLinear().domain(p.yd).range([h, 0]);

  var clipId = "clip-" + p.id;
  g.append("clipPath").attr("id", clipId)
    .append("rect").attr("width", w).attr("height", h);

  var line = d3.line()
    .x(function(d) { return x(d[0]); })
    .y(function(d) { return y(d[1]); })
    .curve(d3.curveCatmullRom.alpha(0.5));

  var area = g.append("g").attr("clip-path", "url(#" + clipId + ")");
  p.series.forEach(function(s) {
    area.append("path").datum(s.d).attr("d", line)
      .attr("fill", "none")
      .attr("stroke", s.c)
      .attr("stroke-width", s.w)
      .attr("stroke-dasharray", s.dash || null)
      .attr("stroke-linejoin", "round")
      .attr("stroke-linecap", s.dash ? "butt" : "round");
  });

  var inX = function(v) { return v > p.xd[0] + 1e-6 && v < p.xd[1] - 1e-6; };
  var inY = function(v) { return v > p.yd[0] + 1e-6 && v < p.yd[1] - 1e-6; };
  var xLab = function(d) { return p.xl[p.xt.indexOf(d)]; };
  var yLab = function(d) { return p.yl[p.yt.indexOf(d)]; };
  var allX = p.xt.concat(p.xm).filter(inX);

  function style(sel) {
    sel.select(".domain").remove();
    sel.selectAll("line").attr("stroke", "#333").attr("stroke-width", 1.3);
    sel.attr("font-family", FONT).attr("font-size", p.fs);
    sel.selectAll("text").attr("fill", "#222");
  }

  var xPad = p.fs >= 14 ? 9 : 7;
  g.append("g").attr("transform", "translate(0," + h + ")")
    .call(d3.axisBottom(x).tickValues(p.xt).tickFormat(xLab).tickSizeInner(-5).tickSizeOuter(0).tickPadding(xPad))
    .call(style);
  g.append("g").attr("transform", "translate(0," + h + ")")
    .call(d3.axisBottom(x).tickValues(p.xm.filter(inX)).tickFormat("").tickSizeInner(-5).tickSizeOuter(0))
    .call(style);
  g.append("g")
    .call(d3.axisTop(x).tickValues(allX).tickFormat("").tickSizeInner(-5).tickSizeOuter(0))
    .call(style);
  g.append("g")
    .call(d3.axisLeft(y).tickValues(p.yt).tickFormat(yLab).tickSizeInner(-5).tickSizeOuter(0).tickPadding(6))
    .call(style);
  g.append("g")
    .call(d3.axisLeft(y).tickValues(p.ym.filter(inY)).tickFormat("").tickSizeInner(-5).tickSizeOuter(0))
    .call(style);

  g.append("rect").attr("width", w).attr("height", h)
    .attr("fill", "none").attr("stroke", "#333").attr("stroke-width", 1.5);

  if (p.tag) {
    g.append("text").attr("x", 4).attr("y", 15)
      .attr("font-size", p.fs >= 14 ? 14 : 13).attr("font-weight", "bold").attr("fill", "#111").text(p.tag);
  }

  svg.append("text")
    .attr("x", p.xTitle[0]).attr("y", p.xTitle[1])
    .attr("text-anchor", "middle").attr("font-size", p.tfs)
    .attr("fill", p.id === "rsCv" ? "#111" : "#333")
    .text(p.xTitleText || "Potential (V vs SHE)");

  var yt = svg.append("text")
    .attr("transform", "translate(" + p.yTitle[0] + "," + p.yTitle[1] + ") rotate(-90)")
    .attr("text-anchor", "middle").attr("dy", "0.35em").attr("font-size", p.tfs)
    .attr("fill", p.id === "rsCv" ? "#111" : "#333");
  yt.append("tspan").text("Current (");
  yt.append("tspan").attr("font-style", "italic").text("\u03bc");
  yt.append("tspan").text("A)");

  if (p.note) {
    svg.append("text").attr("x", p.note.x).attr("y", p.note.y)
      .attr("text-anchor", "middle").attr("font-size", 4.5).attr("font-style", "italic")
      .attr("fill", "#555").text(p.note.text);
  }
}

plots.forEach(drawPlot);
</script>
</body>
</html>
